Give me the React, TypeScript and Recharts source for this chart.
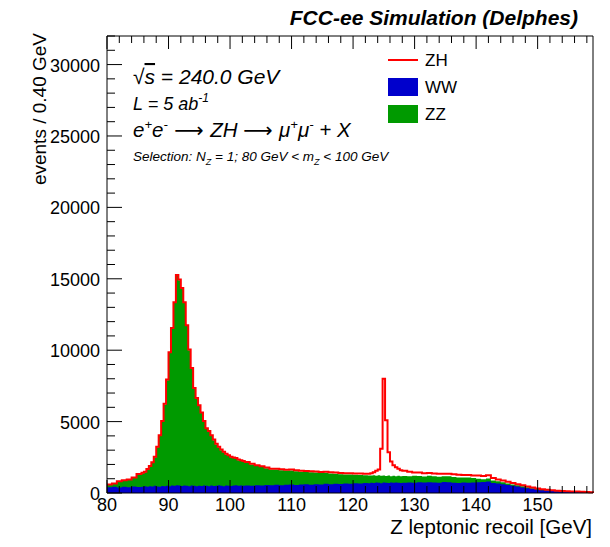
import React from 'react';
import { ComposedChart, Area, XAxis, YAxis, Legend } from 'recharts';

// Lower edges of the histogram bins (GeV). Fine 0.4 GeV bins around the Z and H peaks.
const binLow = [
  80.0, 80.8, 81.6, 82.4, 83.2, 84.0, 84.8,
  85.6, 86.0, 86.4, 86.8, 87.2, 87.6, 88.0, 88.4, 88.8, 89.2, 89.6, 90.0, 90.4, 90.8,
  91.2, 91.6, 92.0, 92.4, 92.8, 93.2, 93.6, 94.0, 94.4, 94.8, 95.2, 95.6, 96.0, 96.4,
  96.8, 97.2, 97.6, 98.0, 98.4, 98.8, 99.2, 99.6, 100.0, 100.4, 100.8, 101.2, 101.6, 102.0,
  102.4, 103.2, 104.0, 104.8, 105.6, 106.4, 107.2, 108.0, 108.8, 109.6, 110.4, 111.2, 112.0,
  112.8, 113.6, 114.4, 115.2, 116.0, 116.8, 117.6, 118.4, 119.2, 120.0, 120.8, 121.6,
  122.4, 122.8, 123.2, 123.6, 124.0, 124.4, 124.8, 125.2, 125.6, 126.0, 126.4, 126.8, 127.2, 127.6,
  128.0, 128.8, 129.6, 130.4, 131.2, 132.0, 132.8, 133.6, 134.4, 135.2, 136.0, 136.8, 137.6,
  138.4, 139.2, 140.0, 140.8, 141.6, 142.4, 143.2, 144.0, 144.8, 145.6, 146.4, 147.2, 148.0,
  148.8, 149.6, 150.4, 151.2, 152.0, 152.8, 153.6, 154.4, 155.2, 156.0, 156.8, 157.6, 158.4,
];
const histEnd = 159;

const wwEvents = [
  400, 430, 390, 440, 410, 450, 420,
  440, 470, 430, 480, 450, 500, 460, 440, 490, 470, 510, 480, 530, 500,
  540, 520, 490, 530, 510, 480, 520, 500, 470, 510, 490, 530, 500, 480,
  520, 490, 510, 540, 500, 480, 530, 510, 490, 520, 540, 500, 530, 510,
  530, 510, 550, 520, 560, 540, 580, 550, 570, 600, 560, 590, 610,
  580, 620, 600, 640, 610, 650, 630, 660, 640, 680, 660, 700,
  690, 720, 700, 730, 710, 690, 740, 720, 700, 730, 710, 740, 720, 700,
  720, 740, 710, 750, 730, 760, 740, 720, 770, 750, 720, 700, 730,
  710, 740, 760, 770, 800, 700, 660, 620, 560, 500, 450, 390, 330,
  290, 240, 200, 170, 140, 125, 110, 95, 85, 75, 62, 52, 40,
];

const zzEvents = [
  180, 220, 410, 430, 510, 600, 880,
  940, 980, 1220, 1370, 1650, 2000, 2740, 3560, 4510, 5730, 7390, 9320, 10970, 12800,
  14660, 14380, 13810, 12770, 11190, 9520, 8180, 6800, 6130, 5590, 5110, 4470, 4000, 3820,
  3480, 3210, 2890, 2660, 2500, 2370, 2170, 2090, 2010, 1930, 1860, 1800, 1720, 1690,
  1590, 1490, 1350, 1300, 1180, 1110, 1060, 1050, 1000, 980, 960, 900, 860,
  870, 810, 800, 770, 760, 700, 690, 640, 650, 590, 600, 540,
  540, 500, 550, 480, 530, 510, 490, 470, 520, 450, 500, 430, 480, 480,
  470, 430, 490, 440, 420, 450, 430, 410, 400, 420, 400, 390, 350,
  370, 310, 240, 190, 220, 180, 160, 140, 110, 100, 90, 80, 70,
  50, 40, 30, 20, 20, 15, 10, 10, 10, 10, 8, 8, 5,
];

const zhEvents = [
  20, 20, 25, 25, 30, 30, 35,
  35, 40, 35, 40, 45, 40, 45, 50, 45, 50, 55, 50, 55, 60,
  60, 55, 60, 55, 50, 55, 50, 45, 50, 45, 40, 45, 40, 45,
  40, 40, 45, 40, 40, 45, 40, 45, 40, 40, 45, 40, 45, 40,
  45, 40, 50, 45, 50, 55, 50, 60, 55, 60, 65, 60, 70,
  65, 70, 75, 70, 80, 85, 80, 90, 95, 100, 110, 115,
  120, 160, 200, 340, 410, 1900, 6770, 3910, 1630, 1020, 740, 630, 500, 420,
  360, 310, 240, 240, 240, 190, 200, 210, 180, 180, 200, 180, 180,
  180, 180, 220, 230, 220, 170, 130, 120, 110, 100, 80, 70, 60,
  50, 40, 30, 30, 30, 20, 20, 15, 15, 15, 10, 10, 5,
];

const xTicks = [
  80, 82, 84, 86, 88, 90, 92, 94, 96, 98, 100, 102, 104, 106, 108, 110, 112, 114, 116, 118,
  120, 122, 124, 126, 128, 130, 132, 134, 136, 138, 140, 142, 144, 146, 148, 150, 152, 154, 156, 158,
];
const yTicks = [
  0, 1000, 2000, 3000, 4000, 5000, 6000, 7000, 8000, 9000, 10000, 11000, 12000, 13000, 14000, 15000,
  16000, 17000, 18000, 19000, 20000, 21000, 22000, 23000, 24000, 25000, 26000, 27000, 28000, 29000,
  30000, 31000, 32000,
];

const FONT = '"Liberation Sans", Arial, Helvetica, sans-serif';
const GREEN = '#009a00';
const BLUE = '#0000cc';
const RED = '#ff0000';

// THStack style: each layer is drawn as the cumulative sum from zero, back to front
const rows = [
  ...binLow.map((x, i) => ({
    x,
    ww: wwEvents[i],
    zzTop: wwEvents[i] + zzEvents[i],
    zhTop: wwEvents[i] + zzEvents[i] + zhEvents[i],
  })),
  { x: histEnd, ww: 0, zzTop: 0, zhTop: 0 },
];

const BottomTick = ({ x, y, payload }: any) => {
  const major = payload.value % 10 === 0;
  return (
    <g>
      <line x1={x} x2={x} y1={y} y2={y - (major ? 13 : 7)} stroke="#000" />
      {major && (
        <text x={x} y={y + 18} textAnchor="middle" fontSize={18} fontFamily={FONT} fill="#000">
          {payload.value}
        </text>
      )}
    </g>
  );
};

const TopTick = ({ x, y, payload }: any) => {
  const major = payload.value % 10 === 0;
  return <line x1={x} x2={x} y1={y} y2={y + (major ? 13 : 7)} stroke="#000" />;
};

const LeftTick = ({ x, y, payload }: any) => {
  const major = payload.value % 5000 === 0;
  return (
    <g>
      <line x1={x} x2={x + (major ? 15 : 8)} y1={y} y2={y} stroke="#000" />
      {major && (
        <text x={x - 7} y={y + 7} textAnchor="end" fontSize={18} fontFamily={FONT} fill="#000">
          {payload.value}
        </text>
      )}
    </g>
  );
};

const RightTick = ({ x, y, payload }: any) => {
  const major = payload.value % 5000 === 0;
  return <line x1={x} x2={x - (major ? 15 : 8)} y1={y} y2={y} stroke="#000" />;
};

const legendItems = [
  { name: 'ZH', kind: 'line', color: RED },
  { name: 'WW', kind: 'box', color: BLUE },
  { name: 'ZZ', kind: 'box', color: GREEN },
];

const renderLegend = () => (
  <svg width={100} height={80}>
    {legendItems.map((it, i) => {
      const cy = 12 + i * 27;
      return (
        <g key={it.name}>
          {it.kind === 'line' ? (
            <line x1={2} x2={32} y1={cy} y2={cy} stroke={it.color} strokeWidth={2} />
          ) : (
            <rect x={2} y={cy - 9} width={30} height={18} fill={it.color} />
          )}
          <text x={39} y={cy + 6} fontSize={17} fontFamily={FONT} fill="#000">
            {it.name}
          </text>
        </g>
      );
    })}
  </svg>
);

const App: React.FC = () => {
  return (
    <div style={{ position: 'absolute', left: 0, top: 0, width: 610, height: 547, background: '#fff' }}>
      <ComposedChart width={610} height={547} data={rows} margin={{ top: 35, right: 16, bottom: 0, left: 7 }}>
        <XAxis
          type="number"
          dataKey="x"
          domain={[80, histEnd]}
          ticks={xTicks}
          interval={0}
          tick={<BottomTick />}
          tickLine={false}
          tickSize={0}
          tickMargin={0}
          height={54}
          axisLine={{ stroke: '#000' }}
        />
        <XAxis
          xAxisId="top"
          orientation="top"
          type="number"
          dataKey="x"
          domain={[80, histEnd]}
          ticks={xTicks}
          interval={0}
          tick={<TopTick />}
          tickLine={false}
          tickSize={0}
          tickMargin={0}
          height={1}
          axisLine={{ stroke: '#000' }}
        />
        <YAxis
          type="number"
          domain={[0, 32000]}
          ticks={yTicks}
          interval={0}
          tick={<LeftTick />}
          tickLine={false}
          tickSize={0}
          tickMargin={0}
          width={100}
          axisLine={{ stroke: '#000' }}
        />
        <YAxis
          yAxisId="right"
          orientation="right"
          type="number"
          domain={[0, 32000]}
          ticks={yTicks}
          interval={0}
          tick={<RightTick />}
          tickLine={false}
          tickSize={0}
          tickMargin={0}
          width={1}
          axisLine={{ stroke: '#000' }}
        />
        <Legend
          layout="vertical"
          align="center"
          verticalAlign="middle"
          wrapperStyle={{ left: 386, top: 48, width: 100, height: 80 }}
          content={renderLegend}
        />
        <Area type="stepAfter" dataKey="zzTop" name="ZZ" fill={GREEN} fillOpacity={1} stroke="none" isAnimationActive={false} />
        <Area type="stepAfter" dataKey="ww" name="WW" fill={BLUE} fillOpacity={1} stroke="none" isAnimationActive={false} />
        <Area type="stepAfter" dataKey="zhTop" name="ZH" fill="none" fillOpacity={0} stroke={RED} strokeWidth={2} isAnimationActive={false} />
      </ComposedChart>
      <svg width={610} height={547} style={{ position: 'absolute', left: 0, top: 0, pointerEvents: 'none' }} fontFamily={FONT}>
        <text x={578} y={25} textAnchor="end" fontSize={21} fontWeight="bold" fontStyle="italic">
          FCC-ee Simulation (Delphes)
        </text>
        <text transform="translate(46,33) rotate(-90)" textAnchor="end" fontSize={19}>
          events / 0.40 GeV
        </text>
        <text x={592} y={534} textAnchor="end" fontSize={20.5}>
          Z leptonic recoil [GeV]
        </text>
        <text x={133} y={84} fontSize={21} fontStyle="italic">
          <tspan fontStyle="normal">√</tspan>
          <tspan textDecoration="overline">s</tspan>
          <tspan> = 240.0 GeV</tspan>
        </text>
        <text x={133} y={110} fontSize={18} fontStyle="italic">
          <tspan>L = 5 ab</tspan>
          <tspan dy={-8} fontSize={12}>-1</tspan>
        </text>
        <text x={133} y={137} fontSize={20.5} fontStyle="italic">
          <tspan>e</tspan>
          <tspan dy={-8} fontSize={13}>+</tspan>
          <tspan dy={8}>e</tspan>
          <tspan dy={-8} fontSize={13}>-</tspan>
          <tspan dy={8} fontStyle="normal" fontFamily="DejaVu Sans"> ⟶ </tspan>
          <tspan>ZH </tspan>
          <tspan fontStyle="normal" fontFamily="DejaVu Sans">⟶ </tspan>
          <tspan>μ</tspan>
          <tspan dy={-8} fontSize={13}>+</tspan>
          <tspan dy={8}>μ</tspan>
          <tspan dy={-8} fontSize={13}>-</tspan>
          <tspan dy={8}> + X</tspan>
        </text>
        <text x={133} y={161} fontSize={13.5} fontStyle="italic">
          <tspan>Selection: N</tspan>
          <tspan dy={4} fontSize={9}>Z</tspan>
          <tspan dy={-4}> = 1; 80 GeV &lt; m</tspan>
          <tspan dy={4} fontSize={9}>Z</tspan>
          <tspan dy={-4}> &lt; 100 GeV</tspan>
        </text>
      </svg>
    </div>
  );
};

export default App;
